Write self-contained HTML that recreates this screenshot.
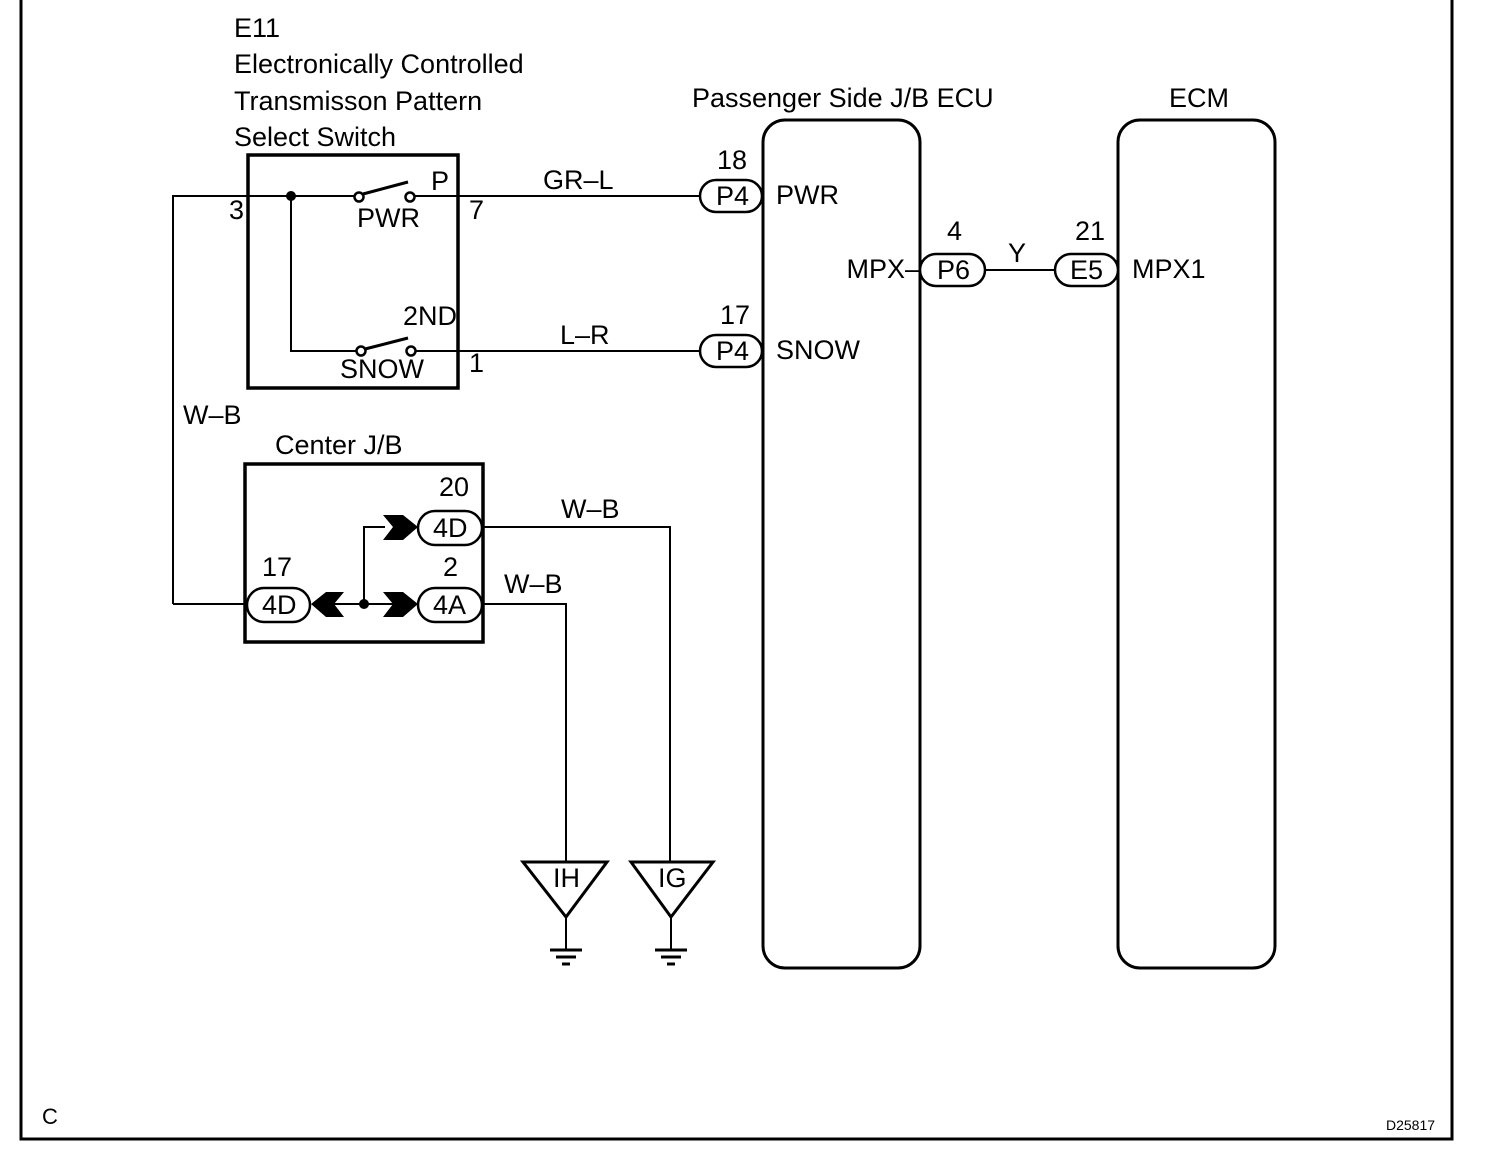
<!DOCTYPE html>
<html><head><style>body{margin:0;background:#fff}svg{display:block}text{font-family:"Liberation Sans",Arial,sans-serif;fill:#000}</style></head><body>
<svg width="1504" height="1168" viewBox="0 0 1504 1168" xmlns="http://www.w3.org/2000/svg">
<g fill="none" stroke="#000">
<path d="M21 0V1139H1452V0" stroke-width="3"/>
<rect x="248" y="155" width="210" height="233" stroke-width="3.5"/>
<rect x="245" y="464" width="238" height="178" stroke-width="3.5"/>
<rect x="763" y="120" width="157" height="848" rx="22" stroke-width="3"/>
<rect x="1118" y="120" width="157" height="848" rx="22" stroke-width="3"/>
<g stroke-width="2">
<path d="M173 604V196H355M414 196H700"/>
<path d="M291 196V351H357M415 351H700"/>
<path d="M173 604H246"/>
<path d="M364 604V527H385"/>
<path d="M330 604H400"/>
<path d="M483 527H670V862M483 604H566V862"/>
<path d="M985 270H1055"/>
<path d="M566 917V950M671 917V950"/>
</g>
<g stroke-width="3">
<path d="M363 194L408 182M365 349L408 338"/>
<path d="M523 862H607L566 917ZM631 862H713L671 917Z"/>
<path d="M550 950h32M556 957h20M562 964h8M655 950h32M661 957h20M667 964h8"/>
</g>
<g stroke-width="2.5" fill="#fff">
<circle cx="359" cy="197" r="4.5"/><circle cx="410" cy="197" r="4.5"/>
<circle cx="361" cy="351" r="4.5"/><circle cx="411" cy="351" r="4.5"/>
<rect x="700" y="180" width="62" height="32" rx="16"/>
<rect x="700" y="335" width="62" height="32" rx="16"/>
<rect x="920" y="254" width="65" height="32" rx="16"/>
<rect x="1055" y="254" width="63" height="32" rx="16"/>
<rect x="418" y="511" width="64" height="34" rx="17"/>
<rect x="418" y="588" width="64" height="34" rx="17"/>
<rect x="247" y="588" width="63" height="34" rx="17"/>
</g>
</g>
<circle cx="291" cy="196" r="5"/>
<circle cx="364" cy="604" r="5"/>
<path d="M383 515H403L418 527L403 540H383L393 527Z"/>
<path d="M383 592H403L418 604L403 617H383L393 604Z"/>
<path d="M344 592H326L311 604L326 617H344L334 604Z"/>
<g font-size="27">
<text x="234" y="37">E11</text>
<text x="234" y="73">Electronically Controlled</text>
<text x="234" y="110">Transmisson Pattern</text>
<text x="234" y="146">Select Switch</text>
<text x="692" y="107">Passenger Side J/B ECU</text>
<text x="1169" y="107">ECM</text>
<text x="229" y="219">3</text>
<text x="431" y="190">P</text>
<text x="469" y="219">7</text>
<text x="357" y="227">PWR</text>
<text x="457" y="325" text-anchor="end">2ND</text>
<text x="340" y="378">SNOW</text>
<text x="469" y="372">1</text>
<text x="543" y="189">GR–L</text>
<text x="560" y="344">L–R</text>
<text x="717" y="169">18</text>
<text x="720" y="324">17</text>
<text x="716" y="205">P4</text>
<text x="716" y="360">P4</text>
<text x="776" y="204">PWR</text>
<text x="776" y="359">SNOW</text>
<text x="920" y="278" text-anchor="end">MPX–</text>
<text x="937" y="279">P6</text>
<text x="947" y="240">4</text>
<text x="1008" y="262">Y</text>
<text x="1070" y="279">E5</text>
<text x="1075" y="240">21</text>
<text x="1132" y="278">MPX1</text>
<text x="183" y="424">W–B</text>
<text x="275" y="454">Center J/B</text>
<text x="439" y="496">20</text>
<text x="433" y="537">4D</text>
<text x="561" y="518">W–B</text>
<text x="443" y="576">2</text>
<text x="433" y="614">4A</text>
<text x="504" y="593">W–B</text>
<text x="262" y="576">17</text>
<text x="262" y="614">4D</text>
<text x="553" y="887">IH</text>
<text x="658" y="887">IG</text>
<text x="42" y="1124" font-size="22">C</text>
</g>
<text x="1386" y="1130" font-size="14">D25817</text>
</svg>
</body></html>
